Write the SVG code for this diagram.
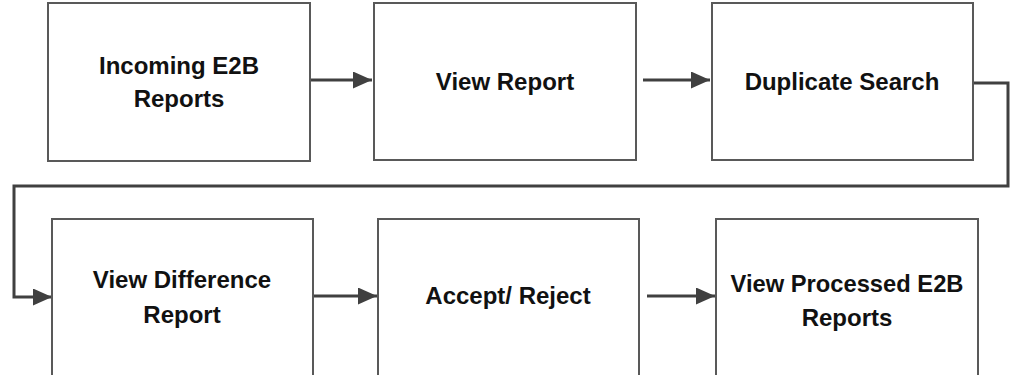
<svg xmlns="http://www.w3.org/2000/svg" width="1010" height="375" viewBox="0 0 1010 375">
<defs>
<marker id="arr" markerUnits="userSpaceOnUse" markerWidth="20" markerHeight="18" refX="19" refY="8.5" orient="auto">
<path d="M0,0 L19,8.5 L0,17 z" fill="#404040"/>
</marker>
<style>
.box{fill:#ffffff;stroke:#595959;stroke-width:2}
.lbl{font-family:"Liberation Sans",Arial,sans-serif;font-weight:bold;font-size:24px;fill:#111111;text-anchor:middle}
.con{fill:none;stroke:#404040;stroke-width:3;marker-end:url(#arr)}
</style>
</defs>
<rect width="1010" height="375" fill="#ffffff"/>
<g id="connectors">
<line class="con" x1="305" y1="80" x2="372" y2="80"/>
<line class="con" x1="643" y1="80" x2="710" y2="80"/>
<polyline class="con" points="973,83 1008,83 1008,186 14,186 14,297 52,297"/>
<line class="con" x1="309" y1="296" x2="377" y2="296"/>
<line class="con" x1="647" y1="296" x2="715" y2="296"/>
</g>
<g id="n1">
<rect class="box" x="48" y="3" width="262" height="158"/>
<text class="lbl" x="179" y="74">Incoming E2B</text>
<text class="lbl" x="179" y="107">Reports</text>
</g>
<g id="n2">
<rect class="box" x="374" y="3" width="262" height="157"/>
<text class="lbl" x="505" y="90">View Report</text>
</g>
<g id="n3">
<rect class="box" x="712" y="3" width="261" height="157"/>
<text class="lbl" x="842" y="90">Duplicate Search</text>
</g>
<g id="n4">
<rect class="box" x="52" y="219" width="261" height="170"/>
<text class="lbl" x="182" y="288">View Difference</text>
<text class="lbl" x="182" y="323">Report</text>
</g>
<g id="n5">
<rect class="box" x="378" y="219" width="261" height="170"/>
<text class="lbl" x="508" y="304">Accept/ Reject</text>
</g>
<g id="n6">
<rect class="box" x="716" y="219" width="262" height="170"/>
<text class="lbl" x="847" y="292" textLength="233" lengthAdjust="spacingAndGlyphs">View Processed E2B</text>
<text class="lbl" x="847" y="326">Reports</text>
</g>
</svg>
